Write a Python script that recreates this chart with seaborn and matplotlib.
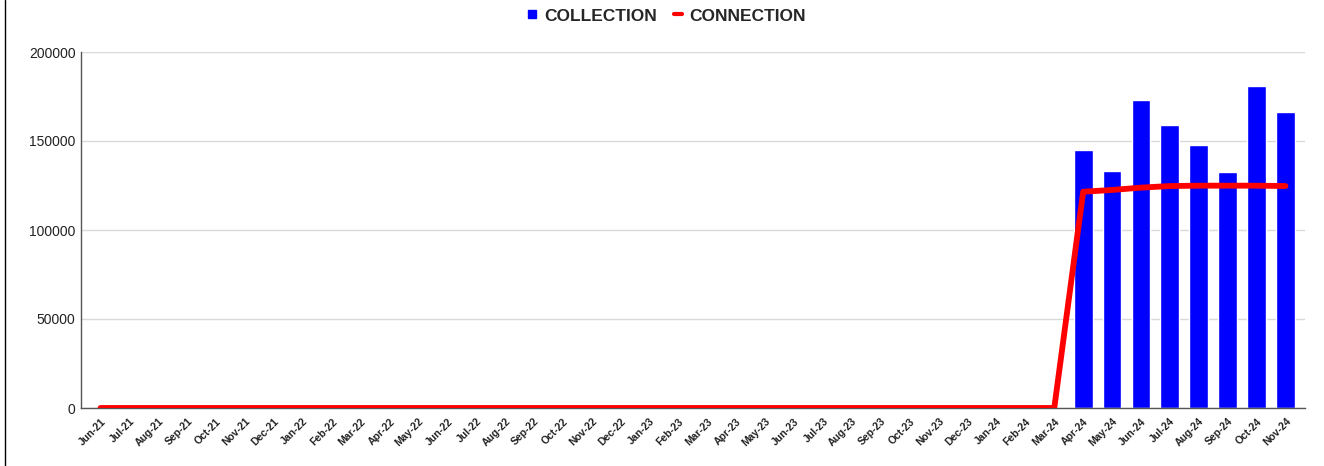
import numpy as np
import pandas as pd
import seaborn as sns
import matplotlib
matplotlib.use("Agg")
import matplotlib.pyplot as plt
from matplotlib.lines import Line2D

# months Jun-21 .. Nov-24
months = ['Jun-21', 'Jul-21', 'Aug-21', 'Sep-21', 'Oct-21', 'Nov-21', 'Dec-21',
          'Jan-22', 'Feb-22', 'Mar-22', 'Apr-22', 'May-22', 'Jun-22', 'Jul-22',
          'Aug-22', 'Sep-22', 'Oct-22', 'Nov-22', 'Dec-22',
          'Jan-23', 'Feb-23', 'Mar-23', 'Apr-23', 'May-23', 'Jun-23', 'Jul-23',
          'Aug-23', 'Sep-23', 'Oct-23', 'Nov-23', 'Dec-23',
          'Jan-24', 'Feb-24', 'Mar-24', 'Apr-24', 'May-24', 'Jun-24', 'Jul-24',
          'Aug-24', 'Sep-24', 'Oct-24', 'Nov-24']

collection = [0] * 34 + [144900, 133100, 172900, 159000, 147800, 132700, 181100, 166100]
connection = [0] * 34 + [121500, 122500, 123800, 124700, 124900, 124900, 124900, 124700]

df = pd.DataFrame({'month': months, 'collection': collection, 'connection': connection})

sns.set_theme(style="white")
plt.rcParams['font.family'] = ['Liberation Sans', 'DejaVu Sans']

fig = plt.figure(figsize=(13.24, 4.66), dpi=100)
ax = fig.add_axes([81 / 1324, 1 - 408 / 466, (1305 - 81) / 1324, (408 - 52) / 466])

sns.barplot(data=df, x='month', y='collection', color='#0000ff', saturation=1,
            width=0.65, ax=ax, zorder=2)
sns.lineplot(x=np.arange(len(months)), y=df['connection'], color='#ff0000',
             linewidth=4.2, ax=ax, zorder=3)

ax.set_xlim(-0.675, len(months) - 1 + 0.675)
ax.set_ylim(0, 200000)
ax.set_yticks([0, 50000, 100000, 150000, 200000])
ax.set_yticklabels(['0', '50000', '100000', '150000', '200000'], fontsize=10, color='#222222')
ax.set_xticks(np.arange(len(months)))
ax.set_xticklabels(months, rotation=45, ha='right', rotation_mode='anchor',
                   fontsize=7.5, fontweight='bold', color='#222222')
ax.tick_params(axis='both', length=0, pad=4)
ax.tick_params(axis='x', pad=6)
ax.set_xlabel('')
ax.set_ylabel('')
ax.yaxis.grid(True, color='#d9d9d9', linewidth=1, zorder=0)
ax.set_axisbelow(True)
for s in ['top', 'right']:
    ax.spines[s].set_visible(False)
for s in ['left', 'bottom']:
    ax.spines[s].set_color('#555555')
    ax.spines[s].set_linewidth(1)

handles = [Line2D([], [], marker='s', color='none', markerfacecolor='#0000ff',
                  markeredgecolor='#0000ff', markersize=6),
           Line2D([], [], color='#ff0000', linewidth=3)]
fig.legend(handles, ['COLLECTION', 'CONNECTION'], loc='center', bbox_to_anchor=(0.504, 1 - 16 / 466),
           ncol=2, frameon=False, handlelength=0.45, handletextpad=0.45, columnspacing=1.0,
           prop={'weight': 'bold', 'size': 12.5, 'family': 'Liberation Sans'})

# left border line
fig.add_artist(Line2D([5 / 1324, 5 / 1324], [0, 1], color='black', linewidth=1))

fig.savefig('out.png', dpi=100)
